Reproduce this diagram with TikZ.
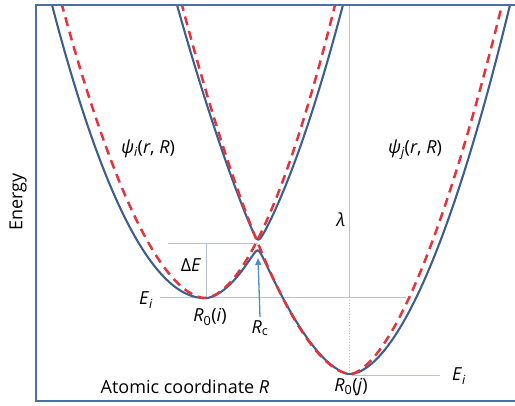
\documentclass[tikz,border=0pt]{standalone}
\usepackage{fontspec}
\setmainfont{Open Sans}
\usepackage{tikz}
\usetikzlibrary{arrows.meta}
\definecolor{Curve}{HTML}{3D5F8C}
\definecolor{Diab}{HTML}{E3343D}
\definecolor{Frame}{HTML}{4A6FA8}
\definecolor{Guide}{HTML}{B7C3CF}
\definecolor{Pointer}{HTML}{4A8CC4}
\newcommand{\isub}[1]{\textsubscript{\itshape #1}}
\newcommand{\rsub}[1]{\textsubscript{#1}}

\tikzset{
  adiabat/.style={Curve,line width=2.1pt},
  diabat/.style={Diab,line width=2.5pt,dash pattern=on 9pt off 6pt},
  guide/.style={Guide,line width=0.8pt},
  lbl/.style={font=\fontsize{18}{20}\selectfont,inner sep=0pt},
  declare function={
    bi(\x)=298-((\x<205) ? 125.2*pow(abs(\x-205)/100+0.0001,2) : 164.8*pow(abs(\x-205)/100+0.0001,1.787));
    bj(\x)=374-((\x<350) ? 148.2*pow(abs(\x-350)/100+0.0001,1.664) : 159.5*pow(abs(\x-350)/100+0.0001,1.785));
    ri(\x)=298-((\x<205) ? 153.9*pow(abs(\x-205)/100+0.0001,1.8) : 183.3*pow(abs(\x-205)/100+0.0001,1.787));
    rj(\x)=374-((\x<350) ? 150.7*pow(abs(\x-350)/100+0.0001,1.726) : 183.4*pow(abs(\x-350)/100+0.0001,1.67));
    gap(\x)=100*sqrt(((bi(\x)-bj(\x))/200)^2+0.0030);
    lo(\x)=(bi(\x)+bj(\x))/2+gap(\x);
    hi(\x)=(bi(\x)+bj(\x))/2-gap(\x);
  }
}

\begin{document}
\begin{tikzpicture}[x=1pt,y=-1pt]
\useasboundingbox (0,0) rectangle (515,406);

% guide lines
\coordinate (top) at (349,5);
\coordinate (lvl) at (349,297);
\coordinate (minj) at (349,374);
\draw[guide] (top) -- (lvl);
\draw[guide,dotted] (lvl) -- (minj);
\draw[guide] (160,297) -- (406,297);
\draw[guide] (168,243) -- (258,243);
\draw[guide] (206,243) -- (206,297);
\draw[guide] (352,375) -- (440,375);

% curves
\begin{scope}
\clip (36,5) rectangle (515,401);
\draw[adiabat] plot[domain=40:520,samples=400] (\x,{lo(\x)});
\draw[adiabat] plot[domain=165:360,samples=200] (\x,{hi(\x)});
\draw[diabat] plot[domain=50:350,samples=150] (\x,{ri(\x)});
\draw[diabat] plot[domain=170:515,samples=150] (\x,{rj(\x)});
\end{scope}

% frame
\draw[Frame,line width=2.4pt] (515,5) -- (36,5) -- (36,401) -- (515,401);

% labels
\node[lbl] (psii) at (148,149) {\textit{ψ}\isub{i}(\textit{r}, \textit{R})};
\node[lbl] (psij) at (415,150) {\textit{ψ}\isub{j}(\textit{r}, \textit{R})};
\node[lbl,rotate=90] (energy) at (18,202) {Energy};
\node[lbl] (lam) at (341,220) {\textit{λ}};
\node[lbl] (dE) at (191,265) {Δ\textit{E}};
\node[lbl] (Eileft) at (146,300) {\textit{E}\isub{i}};
\node[lbl] (R0i) at (210,317) {\textit{R}\rsub{0}(\textit{i})};
\node[lbl] (Rc) at (260,328) {\textit{R}\rsub{c}};
\node[lbl] (axis) at (185,387) {Atomic coordinate \textit{R}};
\node[lbl] (R0j) at (351,387) {\textit{R}\rsub{0}(\textit{j})};
\node[lbl] (Eiright) at (459,376) {\textit{E}\isub{i}};

% pointer to the crossing
\coordinate (cusp) at (258,258);
\draw[Pointer,line width=1.3pt,-{Triangle[length=7pt,width=6pt]}] ([yshift=3pt]Rc.north) -- (cusp);
\end{tikzpicture}
\end{document}
